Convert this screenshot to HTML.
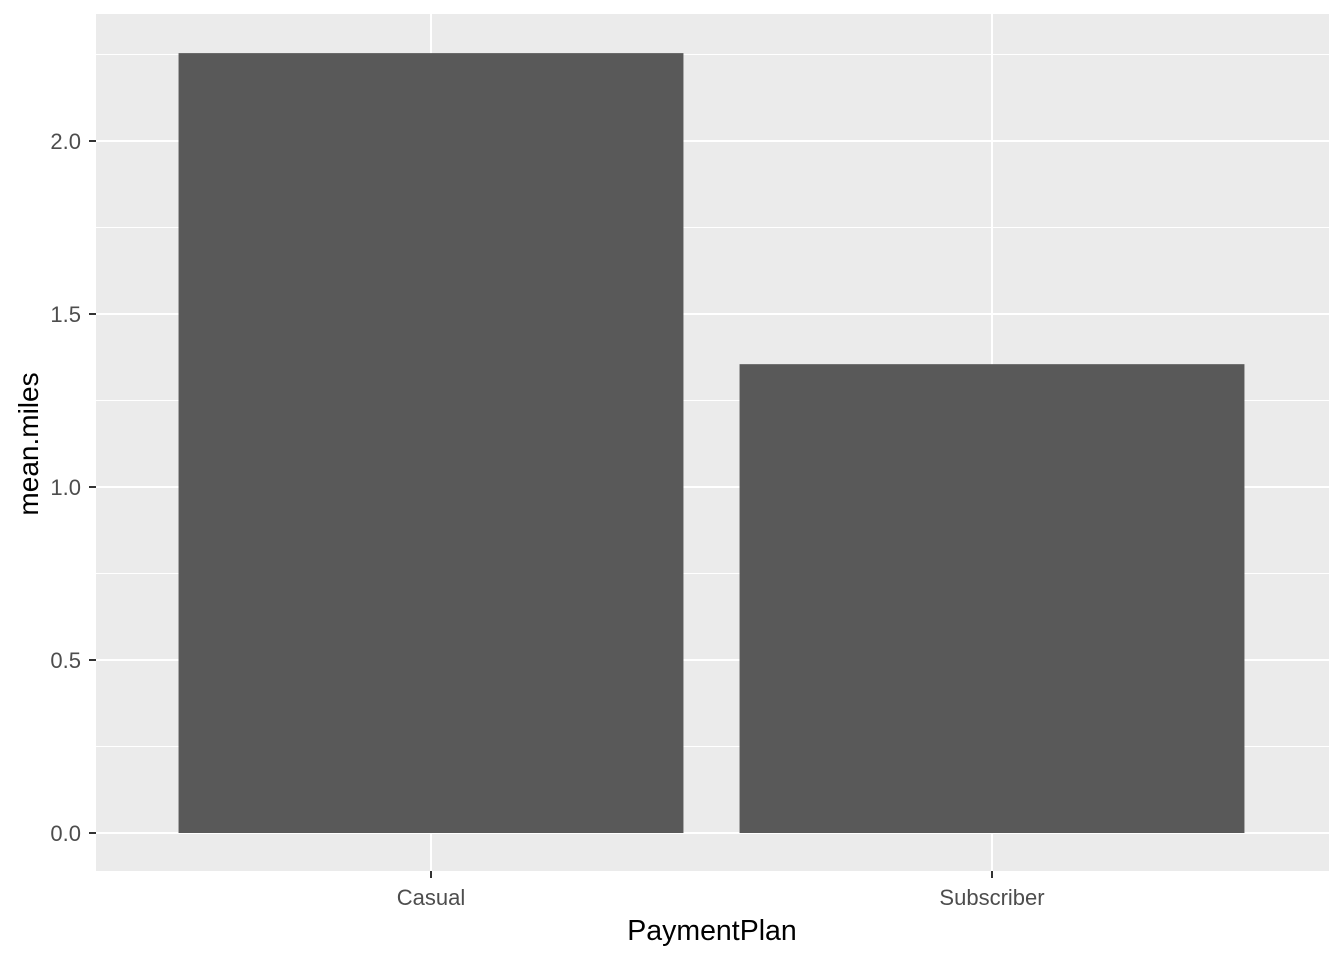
<!DOCTYPE html>
<html><head><meta charset="utf-8"><style>
html,body{margin:0;padding:0;background:#fff;}
svg{display:block;font-family:"Liberation Sans",Arial,sans-serif;}
</style></head><body>
<svg id="chart" width="1344" height="960" viewBox="0 0 1344 960">
<rect x="96" y="14" width="1233" height="857" fill="#EBEBEB"/>
<g id="grid"></g>
<g id="bars"></g>
<g id="axes"></g>
<text x="712" y="940" font-size="28.5" text-anchor="middle" fill="#000">PaymentPlan</text>
<text transform="translate(38,444) rotate(-90)" font-size="28" text-anchor="middle" fill="#000">mean.miles</text>
</svg>
<script>
const categories = ["Casual", "Subscriber"];
const values = [2.254, 1.355];
const yTicks = [0, 0.5, 1.0, 1.5, 2.0];
const yTickLabels = ["0.0", "0.5", "1.0", "1.5", "2.0"];

const NS = "http://www.w3.org/2000/svg";
const y0px = 833, pxPerUnit = 346;
function y(v){ return y0px - v * pxPerUnit; }
const bandStart = 150.5, band = 561;
function xc(i){ return bandStart + band * (i + 0.5); }
function mk(tag, attrs, parent){ const e = document.createElementNS(NS, tag); for (const k in attrs) e.setAttribute(k, attrs[k]); parent.appendChild(e); return e; }
const grid = document.getElementById('grid'), bars = document.getElementById('bars'), axes = document.getElementById('axes');

for (let i = 0; i < yTicks.length - 1; i++) {
  const m = (yTicks[i] + yTicks[i+1]) / 2;
  const l = mk('line', {x1:96, x2:1329, y1:y(m), y2:y(m), stroke:'#fff', 'stroke-width':1}, grid);
  
  
}
{ const m = yTicks[yTicks.length-1] + 0.25; if (y(m) > 14) {
  const l = mk('line', {x1:96, x2:1329, y1:y(m), y2:y(m), stroke:'#fff', 'stroke-width':1}, grid);
  
   } }
yTicks.forEach((t, i) => {
  const l = mk('line', {x1:96, x2:1329, y1:y(t), y2:y(t), stroke:'#fff', 'stroke-width':2}, grid);
  
  
  const tk = mk('line', {x1:89, x2:96, y1:y(t), y2:y(t), stroke:'#333', 'stroke-width':2}, axes);
  
  
  const tx = mk('text', {x:81, y:y(t)+8, 'font-size':22, 'text-anchor':'end', fill:'#4D4D4D'}, axes);
  tx.textContent = yTickLabels[i];
  
  
});
categories.forEach((c, i) => {
  const cx = xc(i);
  const l = mk('line', {x1:cx, x2:cx, y1:14, y2:871, stroke:'#fff', 'stroke-width':2}, grid);
  
  
  const w = band * 0.9;
  const r = mk('rect', {x:cx - w/2, y:y(values[i]), width:w, height:y(0) - y(values[i]), fill:'#595959'}, bars);
  
  
  const tk = mk('line', {x1:cx, x2:cx, y1:871, y2:878, stroke:'#333', 'stroke-width':2}, axes);
  
  
  const tx = mk('text', {x:cx, y:905, 'font-size':22, 'text-anchor':'middle', fill:'#4D4D4D'}, axes);
  tx.textContent = c;
  
  
});
</script>
</body></html>
